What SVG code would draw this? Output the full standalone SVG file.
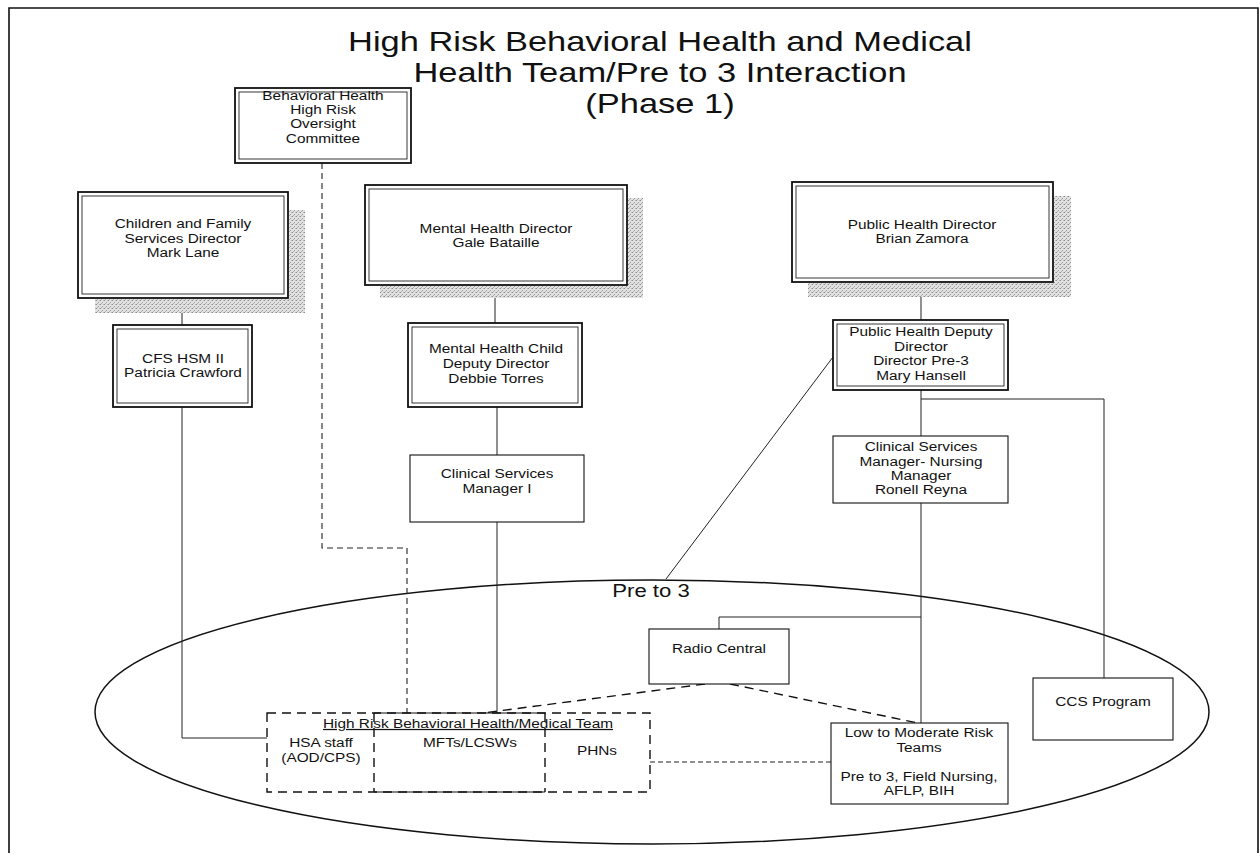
<svg xmlns="http://www.w3.org/2000/svg" width="1260" height="864" viewBox="0 0 1260 864">
<style>
text{font-family:"Liberation Sans",Arial,sans-serif;fill:#111;text-anchor:middle}
.n{font-size:12.5px}
.t{font-size:28px}
.o{fill:#fff;stroke:#111;stroke-width:1.8}
.i{fill:none;stroke:#222;stroke-width:0.9}
.s{fill:#fff;stroke:#111;stroke-width:1.1}
.c{fill:none;stroke:#222;stroke-width:1}
.d{fill:none;stroke:#222;stroke-width:1.1;stroke-dasharray:6 4}
.dd{fill:none;stroke:#111;stroke-width:1.4;stroke-dasharray:9 6}
.sh{fill:url(#stip)}
</style>
<defs>
<pattern id="stip" width="4" height="4" patternUnits="userSpaceOnUse">
<rect width="4" height="4" fill="#e2e2e2"/>
<rect width="1" height="1" fill="#8a8a8a"/>
<rect x="2" y="2" width="1" height="1" fill="#9a9a9a"/>
<rect x="3" y="0" width="1" height="1" fill="#b5b5b5"/>
<rect x="1" y="3" width="1" height="1" fill="#b0b0b0"/>
</pattern>
</defs>
<rect width="1260" height="864" fill="#fff"/>
<path d="M9,853 V8 H1258 V853" fill="none" stroke="#111" stroke-width="1.6"/>

<g id="title">
<text class="t" transform="translate(660,0) scale(1.23,1)"><tspan x="0" y="51">High Risk Behavioral Health and Medical</tspan><tspan x="0" y="82">Health Team/Pre to 3 Interaction</tspan><tspan x="0" y="113">(Phase 1)</tspan></text>
</g>

<g id="pre3">
<ellipse cx="652" cy="712" rx="557" ry="132" fill="none" stroke="#111" stroke-width="1.5"/>
<text transform="translate(651,597) scale(1.23,1)" style="font-size:18px">Pre to 3</text>
</g>

<g id="connectors">
<path class="c" d="M182,298 V325"/>
<path class="c" d="M182,407 V738 H267"/>
<path class="d" d="M322,163 V548 H407 V713"/>
<path class="c" d="M495,285 V323"/>
<path class="c" d="M497,407 V455"/>
<path class="c" d="M497,522 V713"/>
<path class="c" d="M921,282 V320"/>
<path class="c" d="M921,390 V436"/>
<path class="c" d="M921,399 H1104 V678"/>
<path class="c" d="M921,503 V723"/>
<path class="c" d="M921,617 H719 V629"/>
<path class="c" d="M833,357 L666,579"/>
<path class="dd" d="M705,684 L483,713"/>
<path class="dd" d="M730,684 L918,723"/>
<path class="c" d="M650,762 H831" stroke-dasharray="5 3"/>
</g>

<g id="n-bh">
<rect class="o" x="235" y="88" width="176" height="75"/>
<rect class="i" x="239" y="92" width="168" height="67"/>
<text class="n" transform="translate(323,0) scale(1.23,1)"><tspan x="0" y="100">Behavioral Health</tspan><tspan x="0" y="114.5">High Risk</tspan><tspan x="0" y="128.5">Oversight</tspan><tspan x="0" y="143">Committee</tspan></text>
</g>

<g id="n-cfsd">
<rect class="sh" x="289" y="210" width="16" height="103"/>
<rect class="sh" x="95" y="299" width="194" height="14"/>
<rect class="o" x="78" y="192" width="210" height="106"/>
<rect class="i" x="82" y="196" width="202" height="98"/>
<text class="n" transform="translate(183,0) scale(1.23,1)"><tspan x="0" y="228">Children and Family</tspan><tspan x="0" y="243">Services Director</tspan><tspan x="0" y="257">Mark Lane</tspan></text>
</g>

<g id="n-cfs">
<rect class="o" x="113" y="325" width="139" height="82"/>
<rect class="i" x="117" y="329" width="131" height="74"/>
<text class="n" transform="translate(183,0) scale(1.23,1)"><tspan x="0" y="363">CFS HSM II</tspan><tspan x="0" y="377">Patricia Crawford</tspan></text>
</g>

<g id="n-mhd">
<rect class="sh" x="628" y="198" width="15" height="100"/>
<rect class="sh" x="380" y="286" width="248" height="12"/>
<rect class="o" x="365" y="185" width="262" height="100"/>
<rect class="i" x="369" y="189" width="254" height="92"/>
<text class="n" transform="translate(496,0) scale(1.23,1)"><tspan x="0" y="233">Mental Health Director</tspan><tspan x="0" y="247">Gale Bataille</tspan></text>
</g>

<g id="n-mhcdd">
<rect class="o" x="408" y="323" width="174" height="84"/>
<rect class="i" x="412" y="327" width="166" height="76"/>
<text class="n" transform="translate(496,0) scale(1.23,1)"><tspan x="0" y="353">Mental Health Child</tspan><tspan x="0" y="368">Deputy Director</tspan><tspan x="0" y="383">Debbie Torres</tspan></text>
</g>

<g id="n-csm1">
<rect class="s" x="410" y="455" width="174" height="67"/>
<text class="n" transform="translate(497,0) scale(1.23,1)"><tspan x="0" y="478">Clinical Services</tspan><tspan x="0" y="493">Manager I</tspan></text>
</g>

<g id="n-phd">
<rect class="sh" x="1054" y="196" width="17" height="101"/>
<rect class="sh" x="808" y="283" width="246" height="14"/>
<rect class="o" x="792" y="182" width="261" height="100"/>
<rect class="i" x="796" y="186" width="253" height="92"/>
<text class="n" transform="translate(922,0) scale(1.23,1)"><tspan x="0" y="229">Public Health Director</tspan><tspan x="0" y="243">Brian Zamora</tspan></text>
</g>

<g id="n-phdd">
<rect class="o" x="833" y="320" width="175" height="70"/>
<rect class="i" x="837" y="324" width="167" height="62"/>
<text class="n" transform="translate(921,0) scale(1.23,1)"><tspan x="0" y="336">Public Health Deputy</tspan><tspan x="0" y="351">Director</tspan><tspan x="0" y="365">Director Pre-3</tspan><tspan x="0" y="380">Mary Hansell</tspan></text>
</g>

<g id="n-csmn">
<rect class="s" x="833" y="436" width="175" height="67"/>
<text class="n" transform="translate(921,0) scale(1.23,1)"><tspan x="0" y="451">Clinical Services</tspan><tspan x="0" y="466">Manager- Nursing</tspan><tspan x="0" y="480">Manager</tspan><tspan x="0" y="494">Ronell Reyna</tspan></text>
</g>

<g id="n-rc">
<rect class="s" x="649" y="629" width="140" height="55"/>
<text class="n" transform="translate(719,653) scale(1.23,1)">Radio Central</text>
</g>

<g id="n-ccs">
<rect class="s" x="1033" y="678" width="140" height="62"/>
<text class="n" transform="translate(1103,706) scale(1.23,1)">CCS Program</text>
</g>

<g id="n-lowmod">
<rect class="s" x="831" y="723" width="177" height="81"/>
<text class="n" transform="translate(919,0) scale(1.23,1)"><tspan x="0" y="737">Low to Moderate Risk</tspan><tspan x="0" y="752">Teams</tspan><tspan x="0" y="781">Pre to 3, Field Nursing,</tspan><tspan x="0" y="795">AFLP, BIH</tspan></text>
</g>

<g id="n-team">
<rect x="267" y="713" width="383" height="79" fill="#fff" stroke="#111" stroke-width="1.4" stroke-dasharray="9 6"/>
<path d="M374,713 V792 M545,713 V792" fill="none" stroke="#111" stroke-width="1.4" stroke-dasharray="9 6"/>
<path d="M374,713 H545 M374,792 H545" fill="none" stroke="#111" stroke-width="1.2"/>
<text class="n" transform="translate(468,728) scale(1.23,1)" text-decoration="underline">High Risk Behavioral Health/Medical Team</text>
<text class="n" transform="translate(321,0) scale(1.23,1)"><tspan x="0" y="747">HSA staff</tspan><tspan x="0" y="762">(AOD/CPS)</tspan></text>
<text class="n" transform="translate(470,747) scale(1.23,1)">MFTs/LCSWs</text>
<text class="n" transform="translate(597,755) scale(1.23,1)">PHNs</text>
</g>
</svg>
